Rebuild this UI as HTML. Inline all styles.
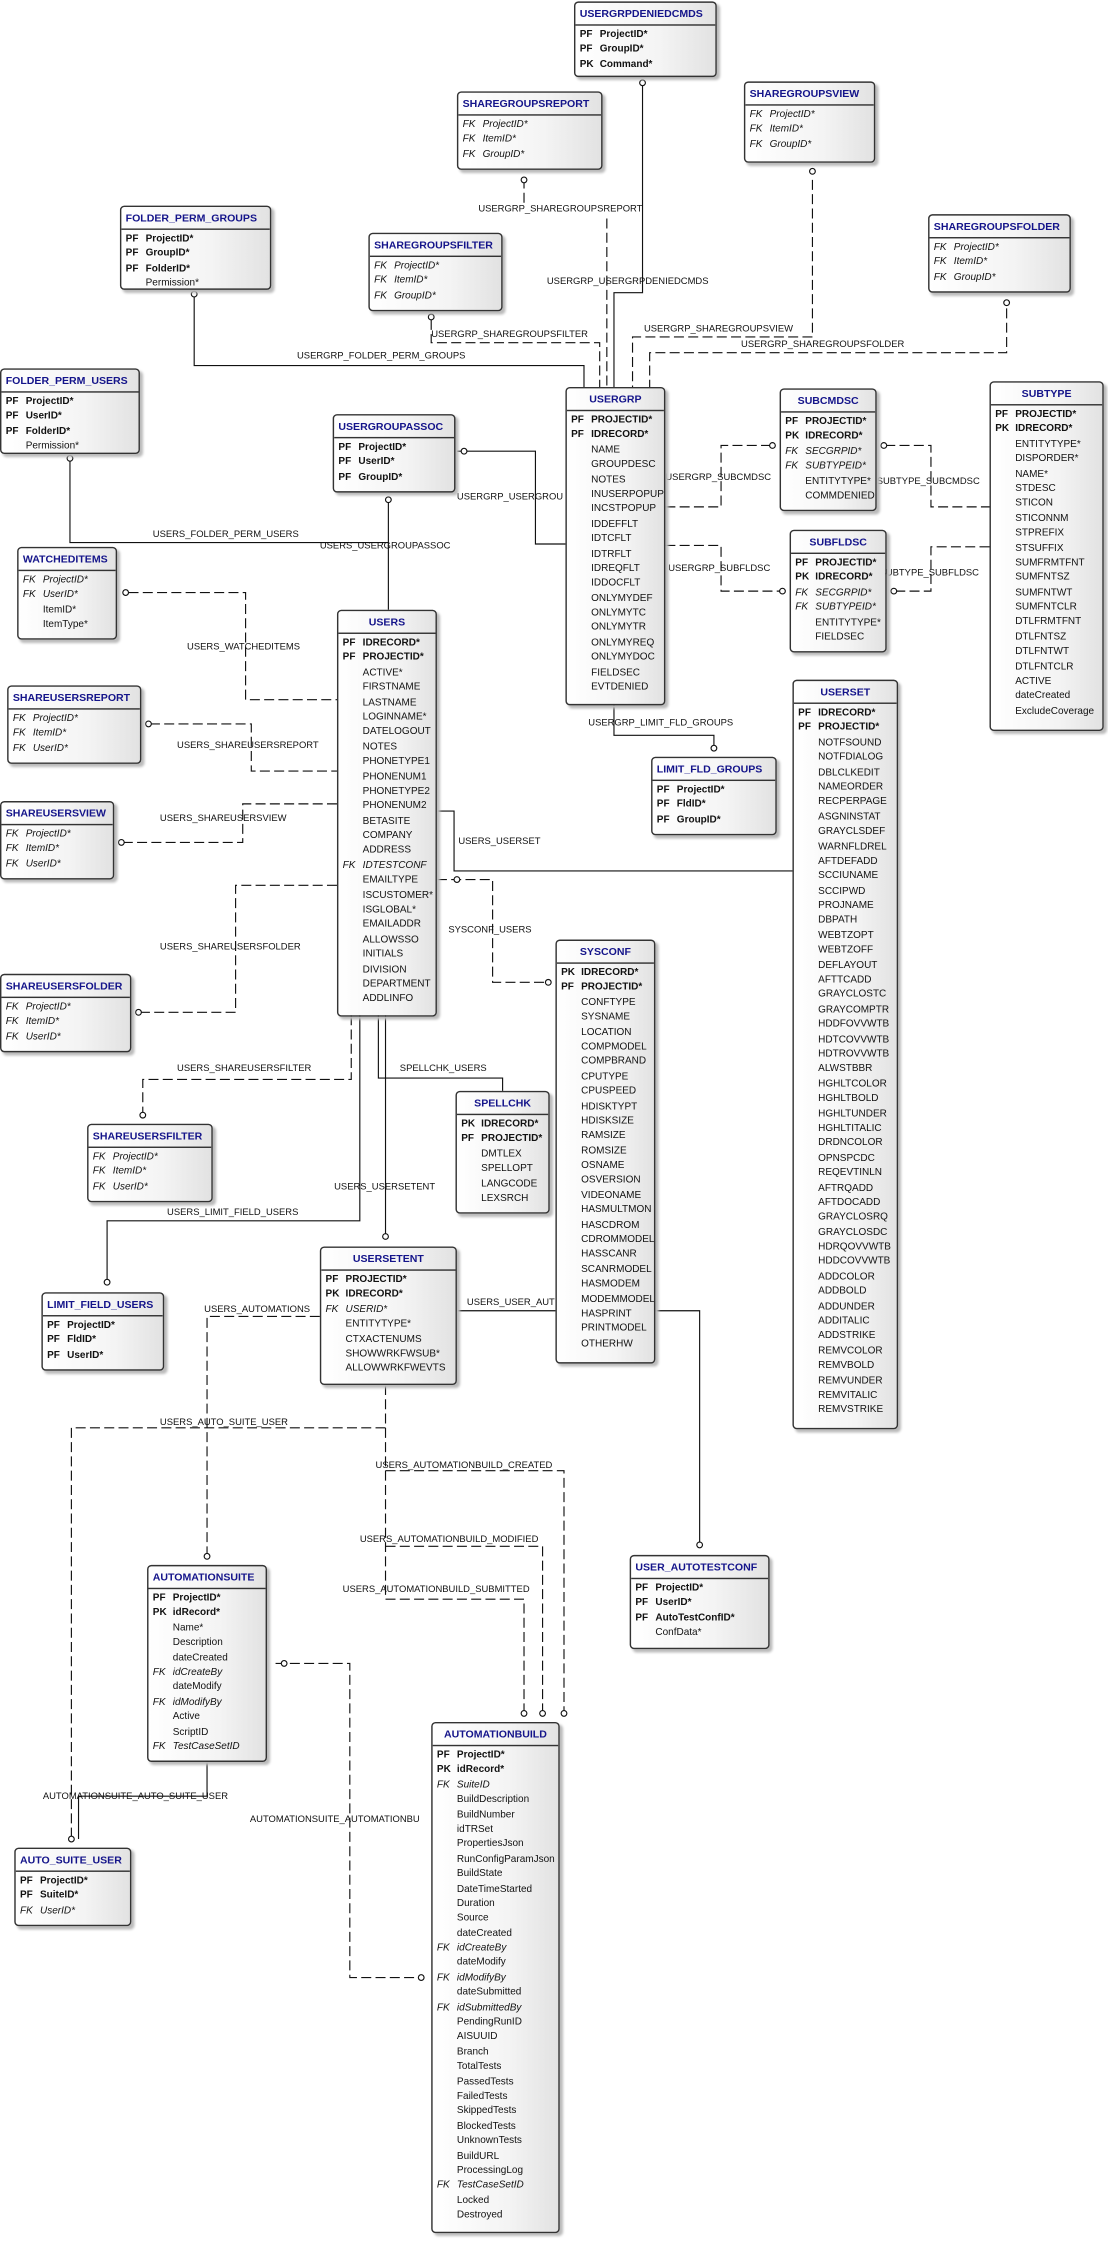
<!DOCTYPE html>
<html><head><meta charset="utf-8"><style>
html,body{margin:0;padding:0;background:#fff;width:1108px;height:2243px;overflow:hidden}
#c{position:absolute;left:0;top:0;width:776px;height:1571px;transform:scale(1.42784);transform-origin:0 0;font-family:"Liberation Sans",sans-serif;font-size:7px;color:#111}
.t{position:absolute;border:1px solid #333;border-radius:3px;background:linear-gradient(to right,#fff 0%,#f4f4f4 60%,#e2e2e2 100%);box-shadow:2px 2px 2px #bbb;box-sizing:border-box;overflow:hidden}
.h{height:15px;line-height:15px;border-bottom:1px solid #333;color:#14148a;font-weight:bold;font-size:7.4px;padding-left:3px;white-space:nowrap;overflow:hidden}
.hc{text-align:center;padding-left:0}
.rs{padding-top:2px}
.r{height:10.4px;line-height:10.4px;white-space:nowrap;padding-left:3px}
.r i.k{display:inline-block;width:14px;font-style:normal}
.b{font-weight:bold}.f{font-style:italic}.f i.k{font-style:italic}
svg{position:absolute;left:0;top:0}
.l{position:absolute;font-size:6.6px;white-space:nowrap;background:transparent}
</style></head><body><div id="c">
<svg width="776" height="1571" viewBox="0 0 776 1571" fill="none" stroke="#111" stroke-width="0.8">
<g>
<polyline points="450,60 450,205 430,205 430,271"/>
<polyline points="136,207 136,256 409,256 409,271"/>
<polyline points="320,316 375,316 375,381 396,381"/>
<polyline points="272,352 272,427"/>
<polyline points="49,322 49,380 272,380"/>
<polyline points="306,568 318,568 318,610 555,610"/>
<polyline points="430,493 430,515 500,515 500,524"/>
<polyline points="265,711 265,755 352,755 352,764"/>
<polyline points="270,711 270,867"/>
<polyline points="252,711 252,855 75,855 75,898"/>
<polyline points="320,918 389,918"/><polyline points="459,918 490,918 490,1082"/>
<polyline points="145,1234 145,1258 55,1258 55,1288"/>
</g>
<g stroke-dasharray="7,3">
<polyline points="367,125 367,142"/>
<polyline points="425,153 425,271"/>
<polyline points="302,224 302,240 420,240 420,271"/>
<polyline points="569,126 569,236 443,236 443,271"/>
<polyline points="705,216 705,247 455,247 455,271"/>
<polyline points="90,415 172,415 172,490 236,490"/>
<polyline points="105,507 176,507 176,540 236,540"/>
<polyline points="86,590 170,590 170,563 236,563"/>
<polyline points="98,709 165,709 165,620 236,620"/>
<polyline points="306,616 345,616 345,688 383,688"/>
<polyline points="466,355 505,355 505,312 540,312"/>
<polyline points="466,382 505,382 505,414 547,414"/>
<polyline points="620,312 652,312 652,355 693,355"/>
<polyline points="627,414 652,414 652,383 693,383"/>
<polyline points="246,711 246,756 100,756 100,780"/>
<polyline points="224,922 145,922 145,1090"/>
<polyline points="270,970 270,1000 50,1000 50,1288"/>
<polyline points="270,1000 270,1120"/>
<polyline points="270,1030 395,1030 395,1200"/>
<polyline points="270,1083 380,1083 380,1200"/>
<polyline points="270,1120 367,1120 367,1200"/>
<polyline points="193,1165 245,1165 245,1385 296,1385"/>
</g>
<g fill="#fff">
<circle cx="450" cy="58" r="2"/><circle cx="367" cy="126" r="2"/><circle cx="569" cy="120" r="2"/><circle cx="136" cy="206" r="2"/><circle cx="302" cy="222" r="2"/><circle cx="705" cy="212" r="2"/><circle cx="49" cy="321" r="2"/><circle cx="272" cy="350" r="2"/><circle cx="325" cy="316" r="2"/><circle cx="88" cy="415" r="2"/><circle cx="104" cy="507" r="2"/><circle cx="85" cy="590" r="2"/><circle cx="97" cy="709" r="2"/><circle cx="541" cy="312" r="2"/><circle cx="619" cy="312" r="2"/><circle cx="548" cy="414" r="2"/><circle cx="626" cy="414" r="2"/><circle cx="500" cy="524" r="2"/><circle cx="384" cy="688" r="2"/><circle cx="100" cy="781" r="2"/><circle cx="270" cy="866" r="2"/><circle cx="75" cy="898" r="2"/><circle cx="490" cy="1082" r="2"/><circle cx="145" cy="1090" r="2"/><circle cx="50" cy="1288" r="2"/><circle cx="199" cy="1165" r="2"/><circle cx="295" cy="1385" r="2"/><circle cx="367" cy="1200" r="2"/><circle cx="380" cy="1200" r="2"/><circle cx="395" cy="1200" r="2"/><circle cx="320" cy="616" r="2"/>
</g>
</svg>
<div class="l" style="left:335px;top:143px">USERGRP_SHAREGROUPSREPORT</div>
<div class="l" style="left:383px;top:194px">USERGRP_USERGRPDENIEDCMDS</div>
<div class="l" style="left:302px;top:231px">USERGRP_SHAREGROUPSFILTER</div>
<div class="l" style="left:451px;top:227px">USERGRP_SHAREGROUPSVIEW</div>
<div class="l" style="left:519px;top:238px">USERGRP_SHAREGROUPSFOLDER</div>
<div class="l" style="left:208px;top:246px">USERGRP_FOLDER_PERM_GROUPS</div>
<div class="l" style="left:320px;top:345px">USERGRP_USERGROU</div>
<div class="l" style="left:466px;top:331px">USERGRP_SUBCMDSC</div>
<div class="l" style="left:614px;top:334px">SUBTYPE_SUBCMDSC</div>
<div class="l" style="left:468px;top:395px">USERGRP_SUBFLDSC</div>
<div class="l" style="left:616px;top:398px">SUBTYPE_SUBFLDSC</div>
<div class="l" style="left:107px;top:371px">USERS_FOLDER_PERM_USERS</div>
<div class="l" style="left:224px;top:379px">USERS_USERGROUPASSOC</div>
<div class="l" style="left:131px;top:450px">USERS_WATCHEDITEMS</div>
<div class="l" style="left:412px;top:503px">USERGRP_LIMIT_FLD_GROUPS</div>
<div class="l" style="left:124px;top:519px">USERS_SHAREUSERSREPORT</div>
<div class="l" style="left:112px;top:570px">USERS_SHAREUSERSVIEW</div>
<div class="l" style="left:321px;top:586px">USERS_USERSET</div>
<div class="l" style="left:314px;top:648px">SYSCONF_USERS</div>
<div class="l" style="left:112px;top:660px">USERS_SHAREUSERSFOLDER</div>
<div class="l" style="left:124px;top:745px">USERS_SHAREUSERSFILTER</div>
<div class="l" style="left:280px;top:745px">SPELLCHK_USERS</div>
<div class="l" style="left:234px;top:828px">USERS_USERSETENT</div>
<div class="l" style="left:117px;top:846px">USERS_LIMIT_FIELD_USERS</div>
<div class="l" style="left:327px;top:909px">USERS_USER_AUT</div>
<div class="l" style="left:143px;top:914px">USERS_AUTOMATIONS</div>
<div class="l" style="left:112px;top:993px">USERS_AUTO_SUITE_USER</div>
<div class="l" style="left:263px;top:1023px">USERS_AUTOMATIONBUILD_CREATED</div>
<div class="l" style="left:252px;top:1075px">USERS_AUTOMATIONBUILD_MODIFIED</div>
<div class="l" style="left:240px;top:1110px">USERS_AUTOMATIONBUILD_SUBMITTED</div>
<div class="l" style="left:30px;top:1255px">AUTOMATIONSUITE_AUTO_SUITE_USER</div>
<div class="l" style="left:175px;top:1271px">AUTOMATIONSUITE_AUTOMATIONBU</div>

<div class="t" style="left:402px;top:1px;width:100px;height:53px"><div class="h">USERGRPDENIEDCMDS</div><div class="rs"><div class="r b"><i class="k">PF</i>ProjectID*</div><div class="r b"><i class="k">PF</i>GroupID*</div><div class="r b"><i class="k">PK</i>Command*</div></div></div>
<div class="t" style="left:320px;top:64px;width:102px;height:55px"><div class="h">SHAREGROUPSREPORT</div><div class="rs"><div class="r f"><i class="k">FK</i>ProjectID*</div><div class="r f"><i class="k">FK</i>ItemID*</div><div class="r f"><i class="k">FK</i>GroupID*</div></div></div>
<div class="t" style="left:521px;top:57px;width:92px;height:57px"><div class="h">SHAREGROUPSVIEW</div><div class="rs"><div class="r f"><i class="k">FK</i>ProjectID*</div><div class="r f"><i class="k">FK</i>ItemID*</div><div class="r f"><i class="k">FK</i>GroupID*</div></div></div>
<div class="t" style="left:84px;top:144px;width:106px;height:59px"><div class="h">FOLDER_PERM_GROUPS</div><div class="rs"><div class="r b"><i class="k">PF</i>ProjectID*</div><div class="r b"><i class="k">PF</i>GroupID*</div><div class="r b"><i class="k">PF</i>FolderID*</div><div class="r"><i class="k"></i>Permission*</div></div></div>
<div class="t" style="left:258px;top:163px;width:94px;height:55px"><div class="h">SHAREGROUPSFILTER</div><div class="rs"><div class="r f"><i class="k">FK</i>ProjectID*</div><div class="r f"><i class="k">FK</i>ItemID*</div><div class="r f"><i class="k">FK</i>GroupID*</div></div></div>
<div class="t" style="left:650px;top:150px;width:100px;height:55px"><div class="h">SHAREGROUPSFOLDER</div><div class="rs"><div class="r f"><i class="k">FK</i>ProjectID*</div><div class="r f"><i class="k">FK</i>ItemID*</div><div class="r f"><i class="k">FK</i>GroupID*</div></div></div>
<div class="t" style="left:0px;top:258px;width:98px;height:60px"><div class="h">FOLDER_PERM_USERS</div><div class="rs"><div class="r b"><i class="k">PF</i>ProjectID*</div><div class="r b"><i class="k">PF</i>UserID*</div><div class="r b"><i class="k">PF</i>FolderID*</div><div class="r"><i class="k"></i>Permission*</div></div></div>
<div class="t" style="left:233px;top:290px;width:86px;height:55px"><div class="h">USERGROUPASSOC</div><div class="rs"><div class="r b"><i class="k">PF</i>ProjectID*</div><div class="r b"><i class="k">PF</i>UserID*</div><div class="r b"><i class="k">PF</i>GroupID*</div></div></div>

<div class="t" style="left:396px;top:271px;width:70px;height:223px"><div class="h hc">USERGRP</div><div class="rs"><div class="r b"><i class="k">PF</i>PROJECTID*</div><div class="r b"><i class="k">PF</i>IDRECORD*</div><div class="r"><i class="k"></i>NAME</div><div class="r"><i class="k"></i>GROUPDESC</div><div class="r"><i class="k"></i>NOTES</div><div class="r"><i class="k"></i>INUSERPOPUP</div><div class="r"><i class="k"></i>INCSTPOPUP</div><div class="r"><i class="k"></i>IDDEFFLT</div><div class="r"><i class="k"></i>IDTCFLT</div><div class="r"><i class="k"></i>IDTRFLT</div><div class="r"><i class="k"></i>IDREQFLT</div><div class="r"><i class="k"></i>IDDOCFLT</div><div class="r"><i class="k"></i>ONLYMYDEF</div><div class="r"><i class="k"></i>ONLYMYTC</div><div class="r"><i class="k"></i>ONLYMYTR</div><div class="r"><i class="k"></i>ONLYMYREQ</div><div class="r"><i class="k"></i>ONLYMYDOC</div><div class="r"><i class="k"></i>FIELDSEC</div><div class="r"><i class="k"></i>EVTDENIED</div></div></div>

<div class="t" style="left:546px;top:272px;width:68px;height:86px"><div class="h hc">SUBCMDSC</div><div class="rs"><div class="r b"><i class="k">PF</i>PROJECTID*</div><div class="r b"><i class="k">PK</i>IDRECORD*</div><div class="r f"><i class="k">FK</i>SECGRPID*</div><div class="r f"><i class="k">FK</i>SUBTYPEID*</div><div class="r"><i class="k"></i>ENTITYTYPE*</div><div class="r"><i class="k"></i>COMMDENIED</div></div></div>
<div class="t" style="left:553px;top:371px;width:68px;height:86px"><div class="h hc">SUBFLDSC</div><div class="rs"><div class="r b"><i class="k">PF</i>PROJECTID*</div><div class="r b"><i class="k">PK</i>IDRECORD*</div><div class="r f"><i class="k">FK</i>SECGRPID*</div><div class="r f"><i class="k">FK</i>SUBTYPEID*</div><div class="r"><i class="k"></i>ENTITYTYPE*</div><div class="r"><i class="k"></i>FIELDSEC</div></div></div>

<div class="t" style="left:693px;top:267px;width:80px;height:245px"><div class="h hc">SUBTYPE</div><div class="rs"><div class="r b"><i class="k">PF</i>PROJECTID*</div><div class="r b"><i class="k">PK</i>IDRECORD*</div><div class="r"><i class="k"></i>ENTITYTYPE*</div><div class="r"><i class="k"></i>DISPORDER*</div><div class="r"><i class="k"></i>NAME*</div><div class="r"><i class="k"></i>STDESC</div><div class="r"><i class="k"></i>STICON</div><div class="r"><i class="k"></i>STICONNM</div><div class="r"><i class="k"></i>STPREFIX</div><div class="r"><i class="k"></i>STSUFFIX</div><div class="r"><i class="k"></i>SUMFRMTFNT</div><div class="r"><i class="k"></i>SUMFNTSZ</div><div class="r"><i class="k"></i>SUMFNTWT</div><div class="r"><i class="k"></i>SUMFNTCLR</div><div class="r"><i class="k"></i>DTLFRMTFNT</div><div class="r"><i class="k"></i>DTLFNTSZ</div><div class="r"><i class="k"></i>DTLFNTWT</div><div class="r"><i class="k"></i>DTLFNTCLR</div><div class="r"><i class="k"></i>ACTIVE</div><div class="r"><i class="k"></i>dateCreated</div><div class="r"><i class="k"></i>ExcludeCoverage</div></div></div>

<div class="t" style="left:12px;top:383px;width:70px;height:65px"><div class="h">WATCHEDITEMS</div><div class="rs"><div class="r f"><i class="k">FK</i>ProjectID*</div><div class="r f"><i class="k">FK</i>UserID*</div><div class="r"><i class="k"></i>ItemID*</div><div class="r"><i class="k"></i>ItemType*</div></div></div>

<div class="t" style="left:236px;top:427px;width:70px;height:285px"><div class="h hc">USERS</div><div class="rs"><div class="r b"><i class="k">PF</i>IDRECORD*</div><div class="r b"><i class="k">PF</i>PROJECTID*</div><div class="r"><i class="k"></i>ACTIVE*</div><div class="r"><i class="k"></i>FIRSTNAME</div><div class="r"><i class="k"></i>LASTNAME</div><div class="r"><i class="k"></i>LOGINNAME*</div><div class="r"><i class="k"></i>DATELOGOUT</div><div class="r"><i class="k"></i>NOTES</div><div class="r"><i class="k"></i>PHONETYPE1</div><div class="r"><i class="k"></i>PHONENUM1</div><div class="r"><i class="k"></i>PHONETYPE2</div><div class="r"><i class="k"></i>PHONENUM2</div><div class="r"><i class="k"></i>BETASITE</div><div class="r"><i class="k"></i>COMPANY</div><div class="r"><i class="k"></i>ADDRESS</div><div class="r f"><i class="k">FK</i>IDTESTCONF</div><div class="r"><i class="k"></i>EMAILTYPE</div><div class="r"><i class="k"></i>ISCUSTOMER*</div><div class="r"><i class="k"></i>ISGLOBAL*</div><div class="r"><i class="k"></i>EMAILADDR</div><div class="r"><i class="k"></i>ALLOWSSO</div><div class="r"><i class="k"></i>INITIALS</div><div class="r"><i class="k"></i>DIVISION</div><div class="r"><i class="k"></i>DEPARTMENT</div><div class="r"><i class="k"></i>ADDLINFO</div></div></div>

<div class="t" style="left:5px;top:480px;width:94px;height:55px"><div class="h">SHAREUSERSREPORT</div><div class="rs"><div class="r f"><i class="k">FK</i>ProjectID*</div><div class="r f"><i class="k">FK</i>ItemID*</div><div class="r f"><i class="k">FK</i>UserID*</div></div></div>

<div class="t" style="left:555px;top:476px;width:74px;height:525px"><div class="h hc">USERSET</div><div class="rs"><div class="r b"><i class="k">PF</i>IDRECORD*</div><div class="r b"><i class="k">PF</i>PROJECTID*</div><div class="r"><i class="k"></i>NOTFSOUND</div><div class="r"><i class="k"></i>NOTFDIALOG</div><div class="r"><i class="k"></i>DBLCLKEDIT</div><div class="r"><i class="k"></i>NAMEORDER</div><div class="r"><i class="k"></i>RECPERPAGE</div><div class="r"><i class="k"></i>ASGNINSTAT</div><div class="r"><i class="k"></i>GRAYCLSDEF</div><div class="r"><i class="k"></i>WARNFLDREL</div><div class="r"><i class="k"></i>AFTDEFADD</div><div class="r"><i class="k"></i>SCCIUNAME</div><div class="r"><i class="k"></i>SCCIPWD</div><div class="r"><i class="k"></i>PROJNAME</div><div class="r"><i class="k"></i>DBPATH</div><div class="r"><i class="k"></i>WEBTZOPT</div><div class="r"><i class="k"></i>WEBTZOFF</div><div class="r"><i class="k"></i>DEFLAYOUT</div><div class="r"><i class="k"></i>AFTTCADD</div><div class="r"><i class="k"></i>GRAYCLOSTC</div><div class="r"><i class="k"></i>GRAYCOMPTR</div><div class="r"><i class="k"></i>HDDFOVVWTB</div><div class="r"><i class="k"></i>HDTCOVVWTB</div><div class="r"><i class="k"></i>HDTROVVWTB</div><div class="r"><i class="k"></i>ALWSTBBR</div><div class="r"><i class="k"></i>HGHLTCOLOR</div><div class="r"><i class="k"></i>HGHLTBOLD</div><div class="r"><i class="k"></i>HGHLTUNDER</div><div class="r"><i class="k"></i>HGHLTITALIC</div><div class="r"><i class="k"></i>DRDNCOLOR</div><div class="r"><i class="k"></i>OPNSPCDC</div><div class="r"><i class="k"></i>REQEVTINLN</div><div class="r"><i class="k"></i>AFTRQADD</div><div class="r"><i class="k"></i>AFTDOCADD</div><div class="r"><i class="k"></i>GRAYCLOSRQ</div><div class="r"><i class="k"></i>GRAYCLOSDC</div><div class="r"><i class="k"></i>HDRQOVVWTB</div><div class="r"><i class="k"></i>HDDCOVVWTB</div><div class="r"><i class="k"></i>ADDCOLOR</div><div class="r"><i class="k"></i>ADDBOLD</div><div class="r"><i class="k"></i>ADDUNDER</div><div class="r"><i class="k"></i>ADDITALIC</div><div class="r"><i class="k"></i>ADDSTRIKE</div><div class="r"><i class="k"></i>REMVCOLOR</div><div class="r"><i class="k"></i>REMVBOLD</div><div class="r"><i class="k"></i>REMVUNDER</div><div class="r"><i class="k"></i>REMVITALIC</div><div class="r"><i class="k"></i>REMVSTRIKE</div></div></div>

<div class="t" style="left:456px;top:530px;width:88px;height:55px"><div class="h">LIMIT_FLD_GROUPS</div><div class="rs"><div class="r b"><i class="k">PF</i>ProjectID*</div><div class="r b"><i class="k">PF</i>FldID*</div><div class="r b"><i class="k">PF</i>GroupID*</div></div></div>
<div class="t" style="left:0px;top:561px;width:80px;height:55px"><div class="h">SHAREUSERSVIEW</div><div class="rs"><div class="r f"><i class="k">FK</i>ProjectID*</div><div class="r f"><i class="k">FK</i>ItemID*</div><div class="r f"><i class="k">FK</i>UserID*</div></div></div>

<div class="t" style="left:389px;top:658px;width:70px;height:297px"><div class="h hc">SYSCONF</div><div class="rs"><div class="r b"><i class="k">PK</i>IDRECORD*</div><div class="r b"><i class="k">PF</i>PROJECTID*</div><div class="r"><i class="k"></i>CONFTYPE</div><div class="r"><i class="k"></i>SYSNAME</div><div class="r"><i class="k"></i>LOCATION</div><div class="r"><i class="k"></i>COMPMODEL</div><div class="r"><i class="k"></i>COMPBRAND</div><div class="r"><i class="k"></i>CPUTYPE</div><div class="r"><i class="k"></i>CPUSPEED</div><div class="r"><i class="k"></i>HDISKTYPT</div><div class="r"><i class="k"></i>HDISKSIZE</div><div class="r"><i class="k"></i>RAMSIZE</div><div class="r"><i class="k"></i>ROMSIZE</div><div class="r"><i class="k"></i>OSNAME</div><div class="r"><i class="k"></i>OSVERSION</div><div class="r"><i class="k"></i>VIDEONAME</div><div class="r"><i class="k"></i>HASMULTMON</div><div class="r"><i class="k"></i>HASCDROM</div><div class="r"><i class="k"></i>CDROMMODEL</div><div class="r"><i class="k"></i>HASSCANR</div><div class="r"><i class="k"></i>SCANRMODEL</div><div class="r"><i class="k"></i>HASMODEM</div><div class="r"><i class="k"></i>MODEMMODEL</div><div class="r"><i class="k"></i>HASPRINT</div><div class="r"><i class="k"></i>PRINTMODEL</div><div class="r"><i class="k"></i>OTHERHW</div></div></div>

<div class="t" style="left:0px;top:682px;width:92px;height:55px"><div class="h">SHAREUSERSFOLDER</div><div class="rs"><div class="r f"><i class="k">FK</i>ProjectID*</div><div class="r f"><i class="k">FK</i>ItemID*</div><div class="r f"><i class="k">FK</i>UserID*</div></div></div>
<div class="t" style="left:319px;top:764px;width:66px;height:86px"><div class="h hc">SPELLCHK</div><div class="rs"><div class="r b"><i class="k">PK</i>IDRECORD*</div><div class="r b"><i class="k">PF</i>PROJECTID*</div><div class="r"><i class="k"></i>DMTLEX</div><div class="r"><i class="k"></i>SPELLOPT</div><div class="r"><i class="k"></i>LANGCODE</div><div class="r"><i class="k"></i>LEXSRCH</div></div></div>
<div class="t" style="left:61px;top:787px;width:88px;height:55px"><div class="h">SHAREUSERSFILTER</div><div class="rs"><div class="r f"><i class="k">FK</i>ProjectID*</div><div class="r f"><i class="k">FK</i>ItemID*</div><div class="r f"><i class="k">FK</i>UserID*</div></div></div>
<div class="t" style="left:224px;top:873px;width:96px;height:97px"><div class="h hc">USERSETENT</div><div class="rs"><div class="r b"><i class="k">PF</i>PROJECTID*</div><div class="r b"><i class="k">PK</i>IDRECORD*</div><div class="r f"><i class="k">FK</i>USERID*</div><div class="r"><i class="k"></i>ENTITYTYPE*</div><div class="r"><i class="k"></i>CTXACTENUMS</div><div class="r"><i class="k"></i>SHOWWRKFWSUB*</div><div class="r"><i class="k"></i>ALLOWWRKFWEVTS</div></div></div>
<div class="t" style="left:29px;top:905px;width:86px;height:55px"><div class="h">LIMIT_FIELD_USERS</div><div class="rs"><div class="r b"><i class="k">PF</i>ProjectID*</div><div class="r b"><i class="k">PF</i>FldID*</div><div class="r b"><i class="k">PF</i>UserID*</div></div></div>
<div class="t" style="left:441px;top:1089px;width:98px;height:66px"><div class="h">USER_AUTOTESTCONF</div><div class="rs"><div class="r b"><i class="k">PF</i>ProjectID*</div><div class="r b"><i class="k">PF</i>UserID*</div><div class="r b"><i class="k">PF</i>AutoTestConfID*</div><div class="r"><i class="k"></i>ConfData*</div></div></div>
<div class="t" style="left:103px;top:1096px;width:84px;height:138px"><div class="h">AUTOMATIONSUITE</div><div class="rs"><div class="r b"><i class="k">PF</i>ProjectID*</div><div class="r b"><i class="k">PK</i>idRecord*</div><div class="r"><i class="k"></i>Name*</div><div class="r"><i class="k"></i>Description</div><div class="r"><i class="k"></i>dateCreated</div><div class="r f"><i class="k">FK</i>idCreateBy</div><div class="r"><i class="k"></i>dateModify</div><div class="r f"><i class="k">FK</i>idModifyBy</div><div class="r"><i class="k"></i>Active</div><div class="r"><i class="k"></i>ScriptID</div><div class="r f"><i class="k">FK</i>TestCaseSetID</div></div></div>
<div class="t" style="left:10px;top:1294px;width:82px;height:55px"><div class="h">AUTO_SUITE_USER</div><div class="rs"><div class="r b"><i class="k">PF</i>ProjectID*</div><div class="r b"><i class="k">PF</i>SuiteID*</div><div class="r f"><i class="k">FK</i>UserID*</div></div></div>
<div class="t" style="left:302px;top:1206px;width:90px;height:358px"><div class="h hc">AUTOMATIONBUILD</div><div class="rs"><div class="r b"><i class="k">PF</i>ProjectID*</div><div class="r b"><i class="k">PK</i>idRecord*</div><div class="r f"><i class="k">FK</i>SuiteID</div><div class="r"><i class="k"></i>BuildDescription</div><div class="r"><i class="k"></i>BuildNumber</div><div class="r"><i class="k"></i>idTRSet</div><div class="r"><i class="k"></i>PropertiesJson</div><div class="r"><i class="k"></i>RunConfigParamJson</div><div class="r"><i class="k"></i>BuildState</div><div class="r"><i class="k"></i>DateTimeStarted</div><div class="r"><i class="k"></i>Duration</div><div class="r"><i class="k"></i>Source</div><div class="r"><i class="k"></i>dateCreated</div><div class="r f"><i class="k">FK</i>idCreateBy</div><div class="r"><i class="k"></i>dateModify</div><div class="r f"><i class="k">FK</i>idModifyBy</div><div class="r"><i class="k"></i>dateSubmitted</div><div class="r f"><i class="k">FK</i>idSubmittedBy</div><div class="r"><i class="k"></i>PendingRunID</div><div class="r"><i class="k"></i>AISUUID</div><div class="r"><i class="k"></i>Branch</div><div class="r"><i class="k"></i>TotalTests</div><div class="r"><i class="k"></i>PassedTests</div><div class="r"><i class="k"></i>FailedTests</div><div class="r"><i class="k"></i>SkippedTests</div><div class="r"><i class="k"></i>BlockedTests</div><div class="r"><i class="k"></i>UnknownTests</div><div class="r"><i class="k"></i>BuildURL</div><div class="r"><i class="k"></i>ProcessingLog</div><div class="r f"><i class="k">FK</i>TestCaseSetID</div><div class="r"><i class="k"></i>Locked</div><div class="r"><i class="k"></i>Destroyed</div></div></div>
</div></body></html>
